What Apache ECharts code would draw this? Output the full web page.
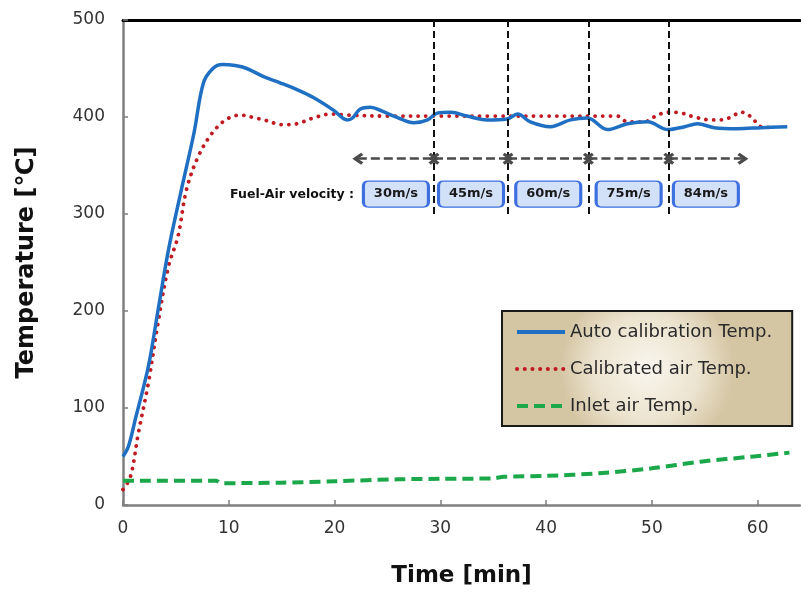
<!DOCTYPE html>
<html>
<head>
<meta charset="utf-8">
<script src="https://cdn.jsdelivr.net/npm/echarts@6/dist/echarts.min.js"></script>
<style>
  html, body { margin: 0; padding: 0; background: #ffffff; }
  #chart { width: 801px; height: 595px; }
</style>
</head>
<body>
<div id="chart"></div>
<script>
// Auto calibration temperature (time in min, temperature in °C)
var autoTime = [0, 0.5, 1.2, 2.4, 3.3, 4.3, 5.5, 6.7, 7.6, 8.5, 9.4, 10.6, 11.7, 13.4, 14.9, 16.5, 18.0, 19.9, 21.2, 21.7, 22.4, 23.4, 24.5, 25.6, 27.5, 28.8, 29.7, 31.0, 32.5, 34.4, 36.3, 37.3, 38.5, 40.4, 42.3, 43.9, 45.8, 47.7, 49.6, 51.5, 53.1, 54.3, 55.9, 58.1, 60.3, 62.8];
var autoTemp = [50, 60, 90, 143, 200, 263, 324, 383, 435, 450, 454, 453, 450, 441, 435, 428, 420, 407, 397, 399, 408, 410, 406, 401, 394, 397, 404, 405, 401, 397, 398, 403, 395, 390, 397, 399, 387, 393, 395, 387, 390, 393, 389, 388, 389, 390];

// Calibrated air temperature
var calTime = [0, 0.7, 1.45, 2.4, 3.3, 4.3, 5.2, 6.0, 7.1, 8.4, 9.7, 11.1, 12.5, 13.3, 15.2, 16.4, 18.0, 19.6, 21.2, 25, 30, 35, 40, 46.7, 47.7, 49.3, 50.2, 51.5, 52.8, 54.0, 55.6, 56.5, 57.5, 58.4, 59.4, 60.3, 61.7];
var calTemp = [16, 29, 74, 126, 187, 246, 277, 325, 359, 383, 397, 402, 399, 397, 392, 393, 399, 403, 402, 401, 401, 401, 401, 401, 395, 395, 400, 405, 404, 400, 397, 397, 400, 405, 400, 390, 389];

// Inlet air temperature
var inletTime = [0, 8.8, 9.3, 15, 20, 26, 30, 35, 36, 40, 45, 50, 54.6, 59.4, 63];
var inletTemp = [25, 25, 22.5, 23, 24.5, 26.5, 27, 27.5, 29, 30, 32.7, 37.8, 44.7, 49.8, 54];

// Fuel-air velocity steps: segment boundaries (min) and labels
var stepBounds = [22.2, 29.4, 36.4, 44.0, 51.6, 58.6];
var velocityLabels = ['30m/s', '45m/s', '60m/s', '75m/s', '84m/s'];

// Axis ticks
var xTicks = { min: 0, max: 64, interval: 10 };
var yTicks = { min: 0, max: 500, interval: 100 };

function pairs(xs, ys) {
  return xs.map(function (x, i) { return [x, ys[i]]; });
}

var FONT = '"DejaVu Sans", "Liberation Sans", Arial, sans-serif';
var ARROW_Y = 357;     // temperature level of the velocity arrows
var DIVIDER_END = 300; // lower end of the vertical dividers
var BOX_Y = 320.6;     // temperature level of the velocity boxes

// chevron head, pointing up (rotated along the line by ECharts)
var chevron = 'path://M5,0 L10,8 L8,10 L5,5 L2,10 L0,8 Z';
// rounded box for the velocity labels
var roundBox = 'path://M5,0 H60 Q65,0 65,5 V21 Q65,26 60,26 H5 Q0,26 0,21 V5 Q0,0 5,0 Z';

var dividerLines = stepBounds.slice(1, -1).map(function (t) {
  return [{ coord: [t, yTicks.max] }, { coord: [t, DIVIDER_END] }];
});
var arrowLines = [];
for (var i = 0; i < stepBounds.length - 1; i++) {
  arrowLines.push([{ coord: [stepBounds[i], ARROW_Y] }, { coord: [stepBounds[i + 1], ARROW_Y] }]);
}
var boxData = velocityLabels.map(function (lab, i) {
  return { value: [(stepBounds[i] + stepBounds[i + 1]) / 2, BOX_Y], name: lab };
});

var chart = echarts.init(document.getElementById('chart'), null, { renderer: 'canvas' });

chart.setOption({
  animation: false,
  backgroundColor: '#ffffff',
  textStyle: { fontFamily: FONT },
  grid: { left: 123, right: 1, top: 20, bottom: 90 },
  xAxis: [{
    type: 'value',
    position: 'bottom',
    min: xTicks.min, max: xTicks.max, interval: xTicks.interval,
    name: 'Time [min]',
    nameLocation: 'middle',
    nameGap: 60,
    nameTextStyle: { fontSize: 23, fontWeight: 'bold', color: '#111', fontFamily: FONT },
    axisLine: { onZero: false, lineStyle: { color: '#7f7f7f', width: 2.5 } },
    axisTick: { inside: true, length: 5, lineStyle: { color: '#7f7f7f', width: 1.5 } },
    axisLabel: { fontSize: 17, color: '#333', margin: 15, showMaxLabel: false, fontFamily: FONT },
    splitLine: { show: false }
  }, {
    type: 'value',
    position: 'top',
    min: xTicks.min, max: xTicks.max,
    axisLine: { show: true, onZero: false, lineStyle: { color: '#000', width: 3 } },
    axisTick: { show: false },
    axisLabel: { show: false },
    splitLine: { show: false }
  }],
  yAxis: {
    type: 'value',
    min: yTicks.min, max: yTicks.max, interval: yTicks.interval,
    name: 'Temperature [℃]',
    nameLocation: 'middle',
    nameGap: 84,
    nameTextStyle: { fontSize: 24, fontWeight: 'bold', color: '#111', fontFamily: FONT },
    axisLine: { show: true, onZero: false, lineStyle: { color: '#7f7f7f', width: 2.5 } },
    axisTick: { show: true, inside: true, length: 5, lineStyle: { color: '#7f7f7f', width: 1.5 } },
    axisLabel: { fontSize: 17, color: '#333', margin: 18, fontFamily: FONT },
    splitLine: { show: false }
  },
  legend: {
    data: ['Auto calibration Temp.', 'Calibrated air Temp.', 'Inlet air Temp.'],
    orient: 'vertical',
    left: 502,
    top: 311,
    itemWidth: 48,
    itemHeight: 14,
    itemGap: 19,
    padding: [12, 20, 11, 13],
    borderColor: '#1a1a1a',
    borderWidth: 2,
    backgroundColor: {
      type: 'radial', x: 0.5, y: 0.5, r: 0.75,
      colorStops: [
        { offset: 0, color: '#f9f6ee' },
        { offset: 0.6, color: '#ece3cf' },
        { offset: 1, color: '#d4c5a3' }
      ]
    },
    itemStyle: { opacity: 0 },
    lineStyle: { width: 4 },
    textStyle: { fontSize: 18, color: '#2a2a2a', fontFamily: FONT },
    selectedMode: false
  },
  graphic: [{
    type: 'text',
    x: 354, y: 195,
    style: {
      text: 'Fuel-Air velocity :',
      align: 'right',
      verticalAlign: 'middle',
      font: 'bold 12.5px ' + FONT,
      fill: '#111'
    }
  }],
  series: [
    {
      name: 'Auto calibration Temp.',
      type: 'line',
      xAxisIndex: 0,
      data: pairs(autoTime, autoTemp),
      smooth: 0.35,
      symbol: 'none',
      lineStyle: { color: '#1f6fc2', width: 3.5 },
      itemStyle: { color: '#1f6fc2' },
      z: 4
    },
    {
      name: 'Calibrated air Temp.',
      type: 'line',
      xAxisIndex: 0,
      data: pairs(calTime, calTemp),
      smooth: 0.35,
      symbol: 'none',
      lineStyle: { color: '#c01a22', width: 3.8, type: [0.1, 7.6], cap: 'round' },
      itemStyle: { color: '#c01a22' },
      z: 3
    },
    {
      name: 'Inlet air Temp.',
      type: 'line',
      xAxisIndex: 0,
      data: pairs(inletTime, inletTemp),
      smooth: 0.3,
      symbol: 'none',
      lineStyle: { color: '#1aa84a', width: 4, type: [11, 6] },
      itemStyle: { color: '#1aa84a' },
      z: 3
    },
    {
      name: 'dividers',
      type: 'line',
      xAxisIndex: 0,
      data: [],
      markLine: {
        silent: true,
        symbol: ['none', 'none'],
        label: { show: false },
        lineStyle: { color: '#111', width: 2, type: [7, 4] },
        data: dividerLines
      },
      z: 5
    },
    {
      name: 'arrows',
      type: 'line',
      xAxisIndex: 0,
      data: [],
      markLine: {
        silent: true,
        symbol: [chevron, chevron],
        symbolSize: [12, 11],
        label: { show: false },
        lineStyle: { color: '#4a4a4a', width: 2.5, type: [9, 4] },
        data: arrowLines
      },
      z: 5
    },
    {
      name: 'velocity',
      type: 'scatter',
      xAxisIndex: 0,
      data: boxData,
      symbol: roundBox,
      symbolSize: [65, 26],
      itemStyle: { color: '#d2e1f8', borderColor: '#3d6fe0', borderWidth: 2, opacity: 1 },
      label: {
        show: true,
        position: 'inside',
        formatter: function (p) { return p.name; },
        fontSize: 13,
        fontWeight: 'bold',
        color: '#1a1a1a',
        fontFamily: FONT
      },
      silent: true,
      z: 6
    }
  ]
});
</script>
</body>
</html>
